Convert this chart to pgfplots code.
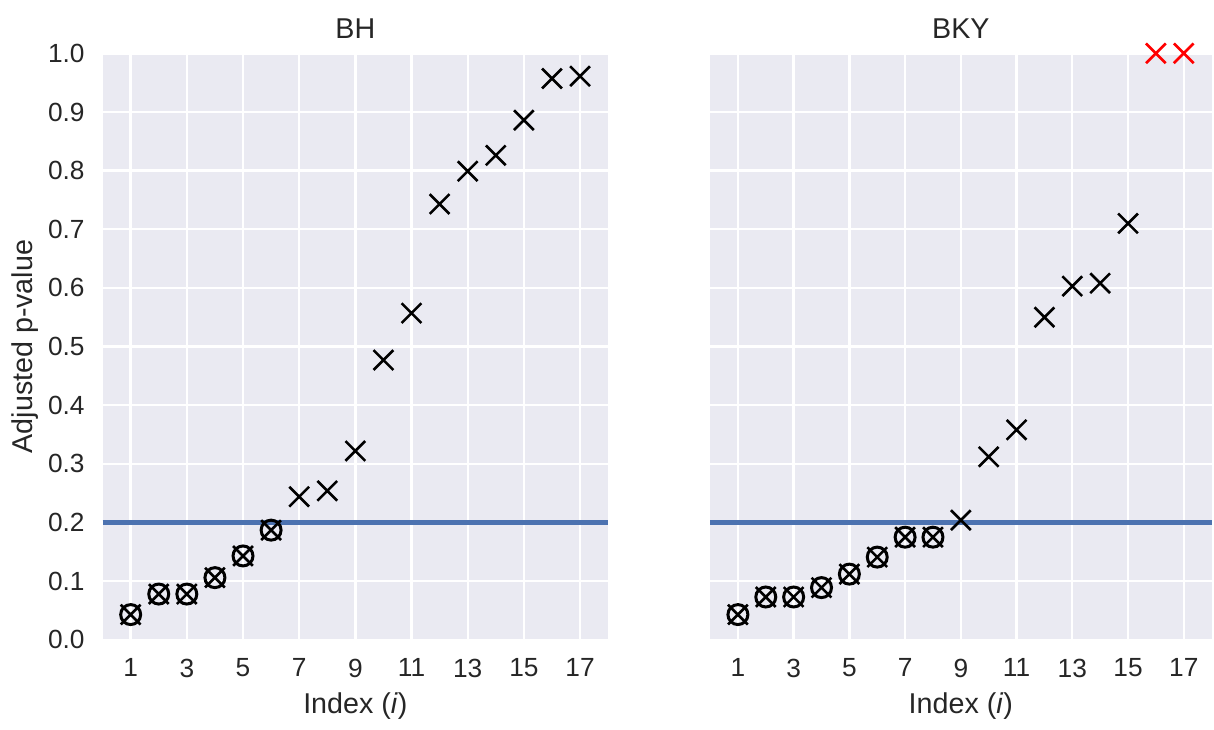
\documentclass[border=0pt]{standalone}
\usepackage{pgfplots}
\pgfplotsset{compat=1.18}
\usepackage{fontspec}
\setmainfont{Liberation Sans}
\definecolor{sbbg}{HTML}{EAEAF2}
\definecolor{sbblue}{HTML}{4C72B0}
\definecolor{txt}{HTML}{262626}

\pgfplotstableread{
i p
1 0.043
2 0.078
3 0.078
4 0.106
5 0.143
6 0.187
7 0.244
8 0.254
9 0.322
10 0.477
11 0.557
12 0.743
13 0.799
14 0.826
15 0.886
16 0.957
17 0.961
}\bhdata
\pgfplotstableread{
i p
1 0.043
2 0.078
3 0.078
4 0.106
5 0.143
6 0.187
}\bhrej
\pgfplotstableread{
i p
1 0.043
2 0.073
3 0.073
4 0.089
5 0.112
6 0.141
7 0.175
8 0.175
9 0.204
10 0.312
11 0.358
12 0.550
13 0.603
14 0.608
15 0.710
}\bkydata
\pgfplotstableread{
i p
1 0.043
2 0.073
3 0.073
4 0.089
5 0.112
6 0.141
7 0.175
8 0.175
}\bkyrej
\pgfplotstableread{
i p
16 1.0
17 1.0
}\bkycap

\pgfplotsset{
  sbstyle/.style={
    scale only axis,
    height=293.5bp,
    xmin=0, xmax=18, ymin=0, ymax=1,
    xtick={1,3,...,17},
    ytick={0,0.1,...,1.0},
    axis background/.style={fill=sbbg},
    axis line style={draw=none},
    major tick length=0pt,
    grid=major,
    major grid style={white, line width=1.2bp},
    clip=false,
    tick label style={font=\fontsize{13.2}{15}\selectfont, text=txt},
    yticklabel style={xshift=-5.5bp, /pgf/number format/fixed, /pgf/number format/fixed zerofill, /pgf/number format/precision=1},
    xticklabel style={yshift=-6bp},
    /pgf/number format/assume math mode=true,
    label style={font=\fontsize{14.4}{17}\selectfont, text=txt},
    title style={font=\fontsize{14.4}{17}\selectfont, text=txt, yshift=-2bp},
    xlabel={Index (\textit{i})},
    xlabel style={yshift=-1bp},
  },
  xmk/.style={only marks, mark=x, mark size=7bp, mark options={line width=1.3bp}},
  omk/.style={only marks, mark=o, mark size=5bp, mark options={line width=1.5bp}},
}

\begin{document}
\begin{tikzpicture}
\begin{axis}[sbstyle, width=253bp, at={(0,0)}, title={BH}, ylabel={Adjusted p-value}, ylabel style={yshift=-2bp}]
\addplot[sbblue, line width=2.4bp] coordinates {(0,0.2) (18,0.2)};
\addplot[black, xmk] table[x=i,y=p] {\bhdata};
\addplot[black, omk] table[x=i,y=p] {\bhrej};
\end{axis}
\begin{axis}[sbstyle, width=251bp, at={(304bp,0)}, title={BKY}, yticklabels={}]
\addplot[sbblue, line width=2.4bp] coordinates {(0,0.2) (18,0.2)};
\addplot[black, xmk] table[x=i,y=p] {\bkydata};
\addplot[black, omk] table[x=i,y=p] {\bkyrej};
\addplot[red, xmk] table[x=i,y=p] {\bkycap};
\end{axis}
\path (current bounding box.north) -- ++(0,6bp);
\path (current bounding box.south) -- ++(0,-1.5bp);
\path (current bounding box.west) -- ++(-2.5bp,0);
\end{tikzpicture}
\end{document}
